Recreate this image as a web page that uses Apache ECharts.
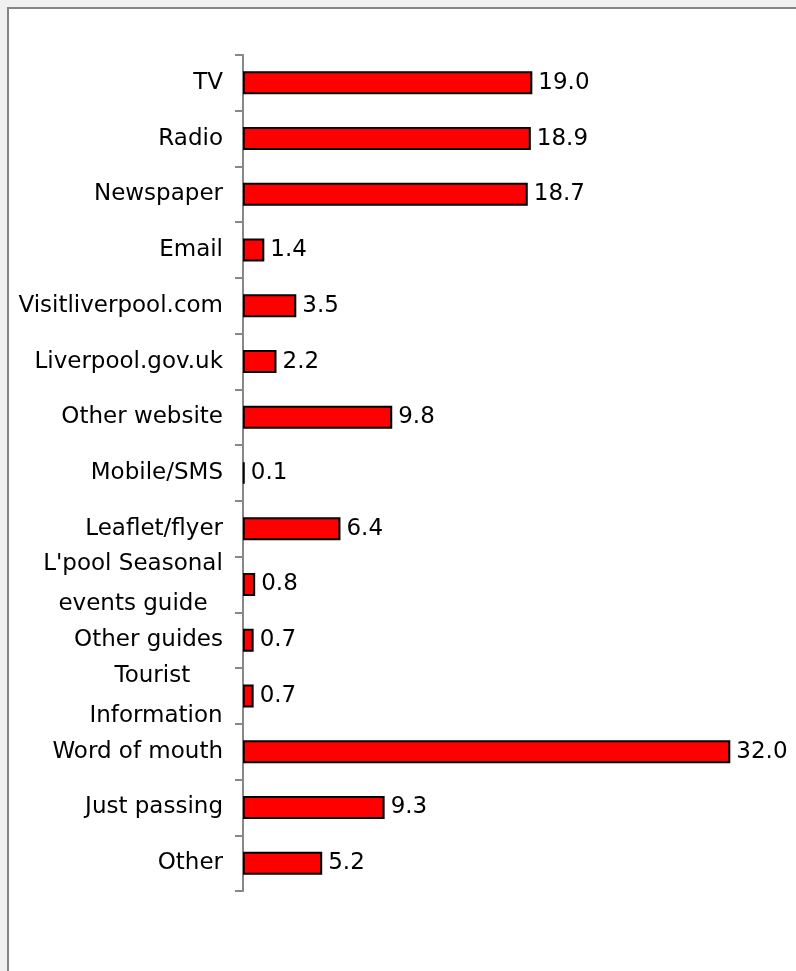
<!DOCTYPE html>
<html>
<head>
<meta charset="utf-8">
<script src="https://cdn.jsdelivr.net/npm/echarts@6/dist/echarts.min.js"></script>
<style>
  html, body { margin: 0; padding: 0; background: #f0f0f0; }
  #chart { width: 796px; height: 971px; }
</style>
</head>
<body>
<div id="chart"></div>
<script>
// Sources of information about the event (%)
const categories = [
  'TV', 'Radio', 'Newspaper', 'Email', 'Visitliverpool.com', 'Liverpool.gov.uk',
  'Other website', 'Mobile/SMS', 'Leaflet/flyer', "L'pool Seasonal\nevents guide",
  'Other guides', 'Tourist \nInformation', 'Word of mouth', 'Just passing', 'Other'
];
const values = [19.0, 18.9, 18.7, 1.4, 3.5, 2.2, 9.8, 0.1, 6.4, 0.8, 0.7, 0.7, 32.0, 9.3, 5.2];

const FONT = '"DejaVu Sans", Verdana, sans-serif';
const FONT_SIZE = 23;

// Multi-line category names are centred line by line inside a right-aligned block
const ctx = document.createElement('canvas').getContext('2d');
ctx.font = FONT_SIZE + 'px ' + FONT;
const rich = {};
categories.forEach((c, i) => {
  if (c.indexOf('\n') >= 0) {
    const w = Math.max(...c.split('\n').map(s => ctx.measureText(s).width));
    rich['m' + i] = { width: Math.ceil(w), align: 'center', lineHeight: 40,
                      fontSize: FONT_SIZE, fontFamily: FONT, color: '#000' };
  }
});

const chart = echarts.init(document.getElementById('chart'), null, { renderer: 'canvas' });
chart.setOption({
  backgroundColor: '#f0f0f0',
  animation: false,
  graphic: [{
    type: 'rect', z: -10, silent: true,
    shape: { x: 8, y: 8, width: 800, height: 980 },
    style: { fill: '#ffffff', stroke: '#858585', lineWidth: 2 }
  }],
  grid: { left: 243, right: 20, top: 55, bottom: 80, containLabel: false },
  xAxis: {
    type: 'value', min: 0, max: 35, show: false
  },
  yAxis: {
    type: 'category',
    inverse: true,
    data: categories,
    axisLine: { show: true, lineStyle: { color: '#888888', width: 2 } },
    axisTick: { show: true, inside: false, length: 8, lineStyle: { color: '#888888', width: 2 } },
    axisLabel: {
      margin: 20,
      fontSize: FONT_SIZE,
      fontFamily: FONT,
      color: '#000',
      align: 'right',
      lineHeight: 40,
      rich: rich,
      formatter: (v, i) => {
        if (v.indexOf('\n') < 0) return v;
        return v.split('\n').map(s => '{m' + i + '|' + s + '}').join('\n');
      }
    },
    splitLine: { show: false }
  },
  series: [{
    type: 'bar',
    data: values,
    barWidth: 23,
    itemStyle: { color: '#ff0000', borderColor: '#000000', borderWidth: 2 },
    label: {
      show: true,
      position: 'right',
      distance: 6,
      fontSize: FONT_SIZE,
      fontFamily: FONT,
      color: '#000',
      formatter: p => p.value.toFixed(1)
    }
  }]
});
</script>
</body>
</html>
